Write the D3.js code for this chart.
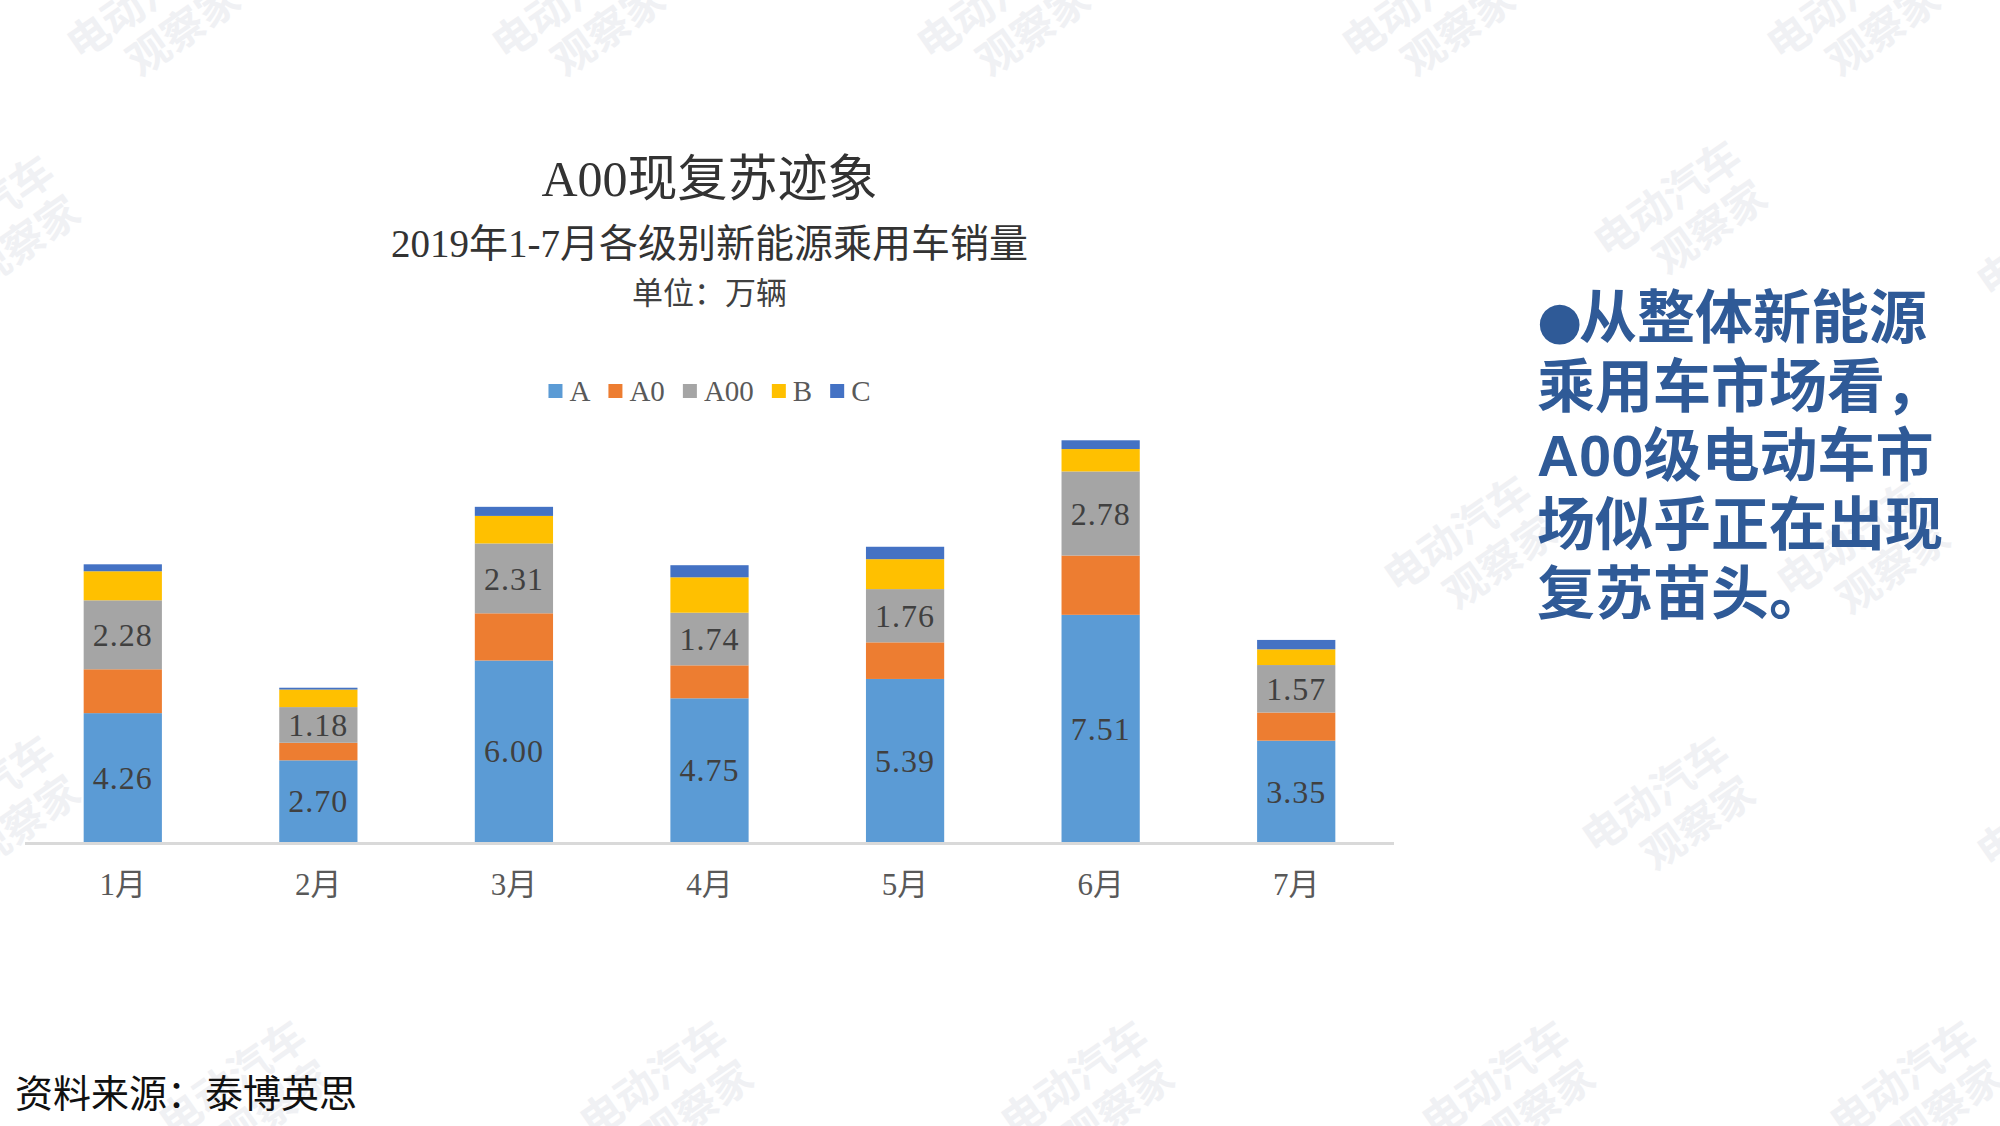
<!DOCTYPE html>
<html>
<head>
<meta charset="utf-8">
<script src="https://cdn.jsdelivr.net/npm/d3@7"></script>
<style>
  html, body { margin: 0; padding: 0; background: #fff; }
  svg { display: block; }
</style>
</head>
<body>
<svg id="chart" width="2000" height="1126"></svg>
<script>
// ---- data ----
const months = ["1月", "2月", "3月", "4月", "5月", "6月", "7月"];
const seriesNames = ["A", "A0", "A00", "B", "C"];
const valuesA   = [4.26, 2.70, 6.00, 4.75, 5.39, 7.51, 3.35];
const valuesA0  = [1.45, 0.58, 1.56, 1.09, 1.21, 1.96, 0.93];
const valuesA00 = [2.28, 1.18, 2.31, 1.74, 1.76, 2.78, 1.57];
const valuesB   = [0.96, 0.58, 0.91, 1.17, 0.99, 0.74, 0.52];
const valuesC   = [0.23, 0.06, 0.30, 0.40, 0.41, 0.29, 0.31];
const labelledSeries = ["A", "A00"];

const titleText = "A00现复苏迹象";
const subtitleText = "2019年1-7月各级别新能源乘用车销量";
const unitText = "单位：万辆";
const sourceText = "资料来源：泰博英思";
const bulletLines = ["从整体新能源", "乘用车市场看，", "A00级电动车市", "场似乎正在出现", "复苏苗头。"];
const watermarkLine1 = "电动汽车";
const watermarkLine2 = "观察家";

// ---- build table ----
const seriesValues = { "A": valuesA, "A0": valuesA0, "A00": valuesA00, "B": valuesB, "C": valuesC };
const table = months.map((m, i) => {
  const row = { month: m };
  seriesNames.forEach(s => row[s] = seriesValues[s][i]);
  return row;
});
const colors = d3.scaleOrdinal().domain(seriesNames)
  .range(["#5B9BD5", "#ED7D31", "#A5A5A5", "#FFC000", "#4472C4"]);

const svg = d3.select("#chart");
const cjk = "'Noto Sans CJK SC', sans-serif";
const serifMix = "'Liberation Serif', 'Noto Sans CJK SC', serif";

// ---- watermarks (decoration) ----
const watermarkSpots = [
  [150, 22], [575, 22], [1000, 22], [1425, 22], [1850, 22],
  [-10, 235], [1677, 220], [2060, 260],
  [1467, 555], [1860, 560],
  [-10, 815], [1665, 816], [2060, 830],
  [242, 1100], [663, 1100], [1084, 1100], [1505, 1100], [1913, 1100]
];
const wm = svg.append("g").attr("class", "watermarks");
watermarkSpots.forEach(([cx, cy]) => {
  const g = wm.append("g").attr("transform", `translate(${cx},${cy}) rotate(-35)`);
  g.append("text").attr("x", -80).attr("y", -8).text(watermarkLine1)
    .attr("font-family", cjk).attr("font-weight", 700).attr("font-size", 42)
    .attr("fill", "#f0f1f4");
  g.append("text").attr("x", -40).attr("y", 40).text(watermarkLine2)
    .attr("font-family", cjk).attr("font-weight", 700).attr("font-size", 42)
    .attr("fill", "#f0f1f4");
});

// ---- scales ----
const plotLeft = 25, plotRight = 1394, baseY = 842;
const x = d3.scaleBand().domain(months).range([plotLeft, plotRight])
  .paddingInner(0.6).paddingOuter(0.3);
const y = d3.scaleLinear().domain([0, 16]).range([baseY, baseY - 16 * 30.25]);

const stacked = d3.stack().keys(seriesNames)(table);

// ---- bars ----
const layers = svg.append("g").selectAll("g.layer").data(stacked).join("g")
  .attr("class", "layer").attr("fill", d => colors(d.key));
layers.selectAll("rect").data(d => d).join("rect")
  .attr("x", d => x(d.data.month))
  .attr("width", x.bandwidth())
  .attr("y", d => y(d[1]))
  .attr("height", d => y(d[0]) - y(d[1]));

// ---- axis line ----
svg.append("line")
  .attr("x1", plotLeft).attr("x2", plotRight)
  .attr("y1", baseY + 1.5).attr("y2", baseY + 1.5)
  .attr("stroke", "#d9d9d9").attr("stroke-width", 3);

// x axis labels via d3 axis
const xAxis = svg.append("g").attr("transform", `translate(0,${baseY})`)
  .call(d3.axisBottom(x).tickSize(0).tickPadding(0));
xAxis.select(".domain").remove();
xAxis.selectAll("text")
  .attr("y", 42).attr("dy", "0.35em")
  .attr("font-family", serifMix).attr("font-size", 31).attr("fill", "#595959");

// ---- data labels ----
const fmt = d3.format(".2f");
stacked.filter(s => labelledSeries.includes(s.key)).forEach(s => {
  svg.append("g").selectAll("text").data(s).join("text")
    .attr("x", d => x(d.data.month) + x.bandwidth() / 2)
    .attr("y", d => (y(d[0]) + y(d[1])) / 2)
    .attr("dy", "0.35em")
    .attr("text-anchor", "middle")
    .attr("font-family", "'Liberation Serif', serif")
    .attr("font-size", 32)
    .attr("letter-spacing", 1)
    .attr("fill", "#404040")
    .text(d => fmt(d[1] - d[0]));
});

// ---- titles ----
const cx = (plotLeft + plotRight) / 2;
svg.append("text").attr("x", cx).attr("y", 178).attr("dy", "0.35em")
  .attr("text-anchor", "middle").attr("font-family", serifMix)
  .attr("font-size", 50).attr("fill", "#333").text(titleText);
svg.append("text").attr("x", cx).attr("y", 243).attr("dy", "0.35em")
  .attr("text-anchor", "middle").attr("font-family", serifMix)
  .attr("font-size", 39).attr("fill", "#333").text(subtitleText);
svg.append("text").attr("x", cx).attr("y", 293).attr("dy", "0.35em")
  .attr("text-anchor", "middle").attr("font-family", serifMix)
  .attr("font-size", 31).attr("fill", "#404040").text(unitText);

// ---- legend ----
const legend = svg.append("g");
const legendY = 391;
let lx = 0;
seriesNames.forEach(name => {
  const g = legend.append("g");
  g.append("rect").attr("x", 0).attr("y", legendY - 7).attr("width", 14).attr("height", 14)
    .attr("fill", colors(name));
  const t = g.append("text").attr("x", 21).attr("y", legendY).attr("dy", "0.35em")
    .attr("font-family", "'Liberation Serif', serif").attr("font-size", 29)
    .attr("fill", "#595959").text(name);
  const w = 21 + t.node().getComputedTextLength();
  g.attr("transform", `translate(${lx},0)`);
  lx += w + 18;
});
const legendWidth = lx - 18;
legend.attr("transform", `translate(${cx - legendWidth / 2},0)`);

// ---- right-hand text ----
const rightX = 1537;
const lineYs0 = 318, lineStep = 69;
bulletLines.forEach((line, i) => {
  const yy = lineYs0 + i * lineStep;
  const t = svg.append("text").attr("x", rightX).attr("y", yy)
    .attr("dy", "0.35em")
    .attr("font-family", "'Liberation Sans', 'Noto Sans CJK SC', sans-serif")
    .attr("font-weight", 700).attr("font-size", 58).attr("fill", "#2F5A97");
  if (i === 0) {
    t.append("tspan").attr("font-family", "'DejaVu Sans', sans-serif")
      .attr("font-size", 52).attr("font-weight", 400).text("●");
    t.append("tspan").attr("x", rightX + 42).text(line);
  } else {
    t.text(line);
  }
});

// ---- source ----
svg.append("text").attr("x", 15).attr("y", 1094).attr("dy", "0.35em")
  .attr("font-family", cjk).attr("font-size", 38).attr("fill", "#111").text(sourceText);
</script>
</body>
</html>
